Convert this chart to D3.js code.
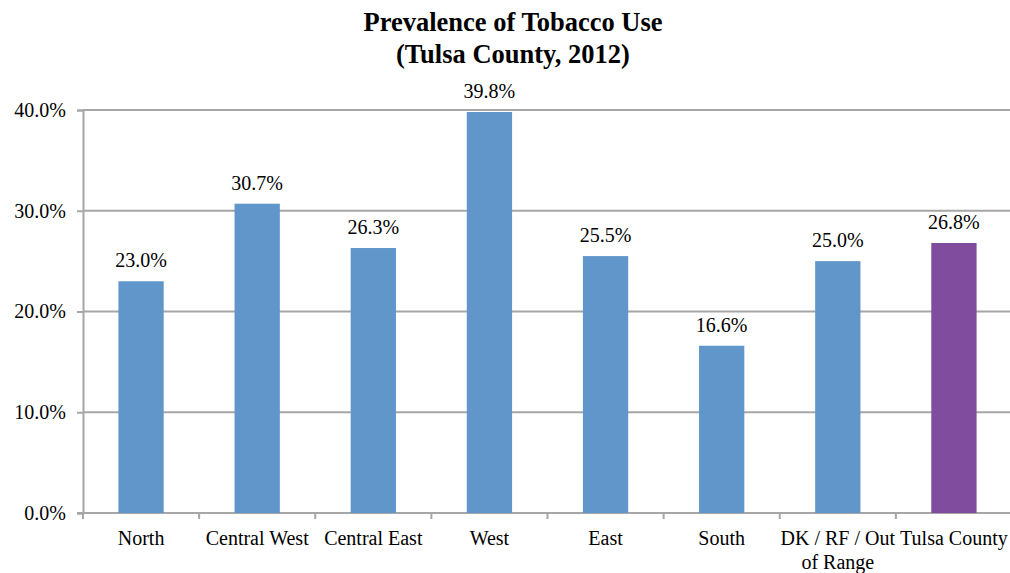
<!DOCTYPE html>
<html>
<head>
<meta charset="utf-8">
<script src="https://cdn.jsdelivr.net/npm/d3@7"></script>
<style>
  body { margin: 0; background: #fff; }
  svg text { font-family: "Liberation Serif", "Times New Roman", serif; fill: #000; }
</style>
</head>
<body>
<div id="chart"></div>
<script>
const categories = ['North', 'Central West', 'Central East', 'West', 'East', 'South', 'DK / RF / Out of Range', 'Tulsa County']
const values = [23.0, 30.7, 26.3, 39.8, 25.5, 16.6, 25.0, 26.8]
const yTicks = [0, 10, 20, 30, 40]

const width = 1010
const height = 573
const margin = { left: 83, right: -2, top: 110, bottom: 60 }

const svg = d3.select('#chart').append('svg')
  .attr('width', width)
  .attr('height', height)

const x = d3.scaleBand()
  .domain(categories)
  .range([margin.left, width - margin.right])
  .paddingInner(0.61)
  .paddingOuter(0.305)

const y = d3.scaleLinear()
  .domain([0, 40])
  .range([height - margin.bottom, margin.top])

// title
const titleLines = ['Prevalence of Tobacco Use', '(Tulsa County, 2012)']
svg.append('g')
  .selectAll('text')
  .data(titleLines)
  .join('text')
  .attr('x', 513)
  .attr('y', (d, i) => 31 + i * 32)
  .attr('text-anchor', 'middle')
  .style('font-size', '26.5px')
  .style('font-weight', 'bold')
  .text(d => d)

// gridlines
svg.append('g')
  .selectAll('line')
  .data(yTicks.filter(d => d > 0))
  .join('line')
  .attr('x1', margin.left)
  .attr('x2', width)
  .attr('y1', d => y(d))
  .attr('y2', d => y(d))
  .attr('stroke', '#a6a6a6')
  .attr('stroke-width', 2)

// y axis
const yAxis = svg.append('g')
  .attr('transform', `translate(${margin.left},0)`)
  .call(d3.axisLeft(y).tickValues(yTicks).tickSize(6).tickFormat(d => d.toFixed(1) + '%'))
yAxis.attr('font-family', null)
yAxis.select('.domain').attr('stroke', '#a6a6a6').attr('stroke-width', 2)
yAxis.selectAll('.tick line').attr('stroke', '#a6a6a6').attr('stroke-width', 2)
yAxis.selectAll('.tick text')
  .attr('x', -17)
  .style('font-size', '20px')
  .attr('fill', '#000')

// x axis line + ticks on band edges
const base = y(0)
svg.append('line')
  .attr('x1', margin.left - 6)
  .attr('x2', width)
  .attr('y1', base)
  .attr('y2', base)
  .attr('stroke', '#a6a6a6')
  .attr('stroke-width', 2)

const gap = (x.step() - x.bandwidth()) / 2
svg.append('g')
  .selectAll('line')
  .data(categories)
  .join('line')
  .attr('x1', d => x(d) - gap)
  .attr('x2', d => x(d) - gap)
  .attr('y1', base)
  .attr('y2', base + 6)
  .attr('stroke', '#a6a6a6')
  .attr('stroke-width', 2)

// bars
svg.append('g')
  .selectAll('rect')
  .data(values)
  .join('rect')
  .attr('x', (d, i) => x(categories[i]))
  .attr('y', d => y(d))
  .attr('width', x.bandwidth())
  .attr('height', d => y(0) - y(d))
  .attr('fill', (d, i) => i === categories.length - 1 ? '#7f4c9e' : '#6096c9')

// value labels
svg.append('g')
  .selectAll('text')
  .data(values)
  .join('text')
  .attr('x', (d, i) => x(categories[i]) + x.bandwidth() / 2)
  .attr('y', d => y(d) - 14)
  .attr('text-anchor', 'middle')
  .style('font-size', '20px')
  .text(d => d.toFixed(1) + '%')

// category labels
const wrapLabel = { 'DK / RF / Out of Range': ['DK / RF / Out', 'of Range'] }
svg.append('g')
  .selectAll('text')
  .data(categories)
  .join('text')
  .attr('x', d => x(d) + x.bandwidth() / 2)
  .attr('y', 545)
  .attr('text-anchor', 'middle')
  .style('font-size', '20px')
  .each(function(d) {
    const lines = wrapLabel[d] || [d]
    d3.select(this).selectAll('tspan')
      .data(lines)
      .join('tspan')
      .attr('x', x(d) + x.bandwidth() / 2)
      .attr('dy', (l, i) => i === 0 ? 0 : 24)
      .text(l => l)
  })
</script>
</body>
</html>
